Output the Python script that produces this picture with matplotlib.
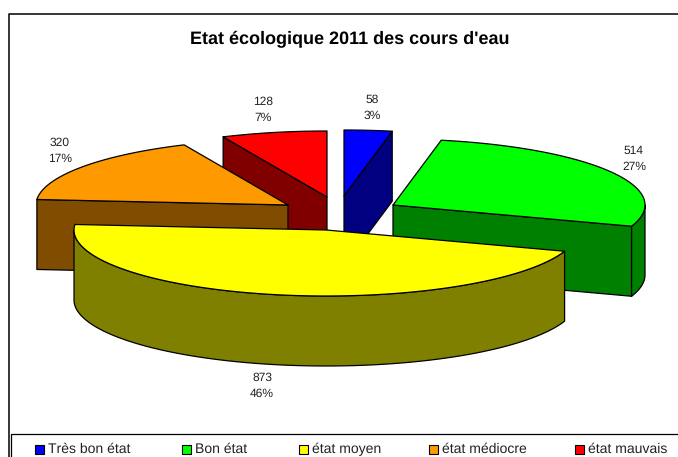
import matplotlib
matplotlib.use('Agg')
import matplotlib.pyplot as plt
from matplotlib.patches import Polygon, Rectangle
import numpy as np

plt.rcParams['font.family'] = ['Liberation Sans', 'DejaVu Sans']
plt.rcParams['text.hinting'] = 'no_hinting'
plt.rcParams['text.hinting_factor'] = 1

title = "Etat écologique 2011 des cours d'eau"
categories = ['Très bon état', 'Bon état', 'état moyen', 'état médiocre', 'état mauvais']
values = [58, 514, 873, 320, 128]
top_colors = ['#0000FF', '#00FF00', '#FFFF00', '#FF9900', '#FF0000']
side_colors = ['#000080', '#008000', '#808000', '#804D00', '#800000']

# apex of each exploded slice, in pixels
apex = [(344, 196), (393, 205), (326, 230), (288, 205), (327, 197)]
label_pos = [(372, 107.5), (634, 158.5), (262, 385.5), (60, 150.5), (263, 109.5)]
legend_x = [39.5, 186.5, 303, 433, 579]

RX = 252
RY = 66
DEPTH = 70
LW = 0.9

fig = plt.figure(figsize=(6.78, 4.57), dpi=100)
ax = fig.add_axes([0, 0, 1, 1])
ax.set_xlim(0, 678)
ax.set_ylim(457, 0)
ax.axis('off')

# angles run clockwise from 12 o'clock
total = sum(values)
edges = np.concatenate([[0], np.cumsum(values)]) / total * 2 * np.pi


def arc(i, t0, t1):
    t = np.linspace(t0, t1, 80)
    return np.column_stack([apex[i][0] + RX * np.sin(t), apex[i][1] - RY * np.cos(t)])


def add_poly(pts, color, z):
    ax.add_patch(Polygon(pts, closed=True, facecolor=color, edgecolor='black',
                         linewidth=LW, joinstyle='round', zorder=z))


# back to front
order = [0, 4, 3, 1, 2]
for z, i in enumerate(order):
    t0, t1 = edges[i], edges[i + 1]
    cx, cy = apex[i]
    base = 10 * (z + 1)

    # cut faces turned to the viewer
    if i in (0, 1):
        end = arc(i, t1, t1)[0]
        add_poly([(cx, cy), end, (end[0], end[1] + DEPTH), (cx, cy + DEPTH)], side_colors[i], base)
    if i in (3, 4):
        end = arc(i, t0, t0)[0]
        add_poly([end, (cx, cy), (cx, cy + DEPTH), (end[0], end[1] + DEPTH)], side_colors[i], base)

    # outer wall, only the front half of the ellipse
    w0, w1 = max(t0, np.pi / 2), min(t1, 3 * np.pi / 2)
    if w1 > w0:
        upper = arc(i, w0, w1)
        lower = upper[::-1] + [0, DEPTH]
        add_poly(np.vstack([upper, lower]), side_colors[i], base + 1)

    add_poly(np.vstack([[(cx, cy)], arc(i, t0, t1)]), top_colors[i], base + 2)

for i in range(len(values)):
    pct = round(values[i] / total * 100)
    ax.text(label_pos[i][0], label_pos[i][1], f'{values[i]}\n{pct}%', ha='center', va='center',
            fontsize=8.7, color='#222222', linespacing=1.55, zorder=100)

ax.text(350, 44.5, title, ha='center', va='baseline', fontsize=12.9, fontweight='bold', zorder=100)

# chart frame, runs off the picture on the right and at the bottom
ax.plot([8.5, 8.5, 690], [470, 13.5, 13.5], color='black', lw=1.1, zorder=100)

# legend box
ax.add_patch(Rectangle((10.5, 434), 700, 40, facecolor='white', edgecolor='black', lw=0.9, zorder=100))
for i in range(len(categories)):
    ax.add_patch(Rectangle((legend_x[i] - 4.5, 444.5), 9, 9, facecolor=top_colors[i], edgecolor='black',
                           lw=0.8, zorder=101))
    ax.text(legend_x[i] + 8.5, 453, categories[i], ha='left', va='baseline', fontsize=10.4, color='#222222', zorder=101)

fig.savefig('out.png', dpi=100)
